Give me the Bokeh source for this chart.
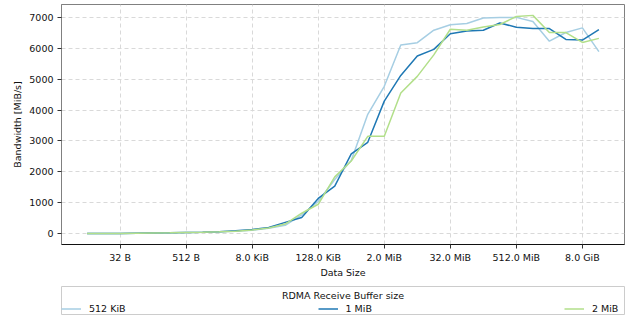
from bokeh.plotting import figure
from bokeh.models import Range1d, FixedTicker, Legend, LegendItem, Label
from bokeh.layouts import column
from bokeh.embed import file_html
from bokeh.resources import INLINE

# Data size in bytes (powers of two from 8 B to 16 GiB)
data_size_bytes = [8, 16, 32, 64, 128, 256, 512, 1024, 2048, 4096,
                   8192, 16384, 32768, 65536, 131072, 262144, 524288, 1048576, 2097152, 4194304,
                   8388608, 16777216, 33554432, 67108864, 134217728, 268435456, 536870912,
                   1073741824, 2147483648, 4294967296, 8589934592, 17179869184]

# Bandwidth [MiB/s] per RDMA receive buffer size
bw_512kib = [5, 6, 8, 12, 18, 25, 35, 45, 60, 75,
             110, 170, 270, 610, 1040, 1750, 2370, 3863, 4770, 6105,
             6180, 6585, 6760, 6800, 6980, 7000, 7000, 6870, 6230, 6510, 6660, 5890]
bw_1mib = [5, 6, 8, 12, 18, 25, 35, 45, 60, 90,
           130, 200, 365, 525, 1140, 1540, 2583, 2957, 4290, 5120,
           5750, 5965, 6470, 6560, 6585, 6820, 6680, 6640, 6640, 6285, 6265, 6605]
bw_2mib = [5, 6, 8, 12, 18, 25, 35, 45, 60, 80,
           120, 180, 310, 660, 950, 1837, 2350, 3150, 3150, 4550,
           5090, 5785, 6615, 6585, 6690, 6770, 7030, 7065, 6510, 6510, 6190, 6320]

series_values = [bw_512kib, bw_1mib, bw_2mib]
series_labels = ["512 KiB", "1 MiB", "2 MiB"]
series_colors = ["#a6cee3", "#1f78b4", "#b2df8a"]
legend_title = "RDMA Receive Buffer size"

x_tick_values = [32, 512, 8192, 131072, 2097152, 33554432, 536870912, 8589934592]
x_tick_labels = ["32 B", "512 B", "8.0 KiB", "128.0 KiB", "2.0 MiB", "32.0 MiB", "512.0 MiB", "8.0 GiB"]
y_tick_values = [0, 1000, 2000, 3000, 4000, 5000, 6000, 7000]

FONT = "DejaVu Sans"
FS = "9.5px"
TXT = "#111111"

# ---- main chart ----
p = figure(width=627, height=286, x_axis_type="log",
           x_range=Range1d(2 ** 1.45, 2 ** 35.55), y_range=Range1d(-352, 7417),
           output_backend="svg", toolbar_location=None,
           min_border_left=61, min_border_right=3, min_border_top=4, min_border_bottom=42)
p.background_fill_color = "white"
p.border_fill_color = "white"
p.outline_line_color = "#808080"
p.outline_line_width = 1

p.xaxis.ticker = FixedTicker(ticks=x_tick_values)
p.xaxis.major_label_overrides = dict(zip(x_tick_values, x_tick_labels))
p.yaxis.ticker = FixedTicker(ticks=y_tick_values)

for ax in (p.xaxis[0], p.yaxis[0]):
    ax.major_label_text_font = FONT
    ax.major_label_text_font_size = FS
    ax.major_label_text_color = TXT
    ax.axis_label_text_font = FONT
    ax.axis_label_text_font_size = FS
    ax.axis_label_text_font_style = "normal"
    ax.axis_label_text_color = TXT
    ax.minor_tick_line_color = None
    ax.major_tick_in = 0
    ax.major_tick_out = 4
    ax.major_tick_line_color = "#333333"
p.xaxis.axis_label = "Data Size"
p.yaxis.axis_label = "Bandwidth [MiB/s]"
p.xaxis.axis_line_color = TXT
p.yaxis.axis_line_color = "#808080"
p.xaxis.major_label_standoff = 3
p.yaxis.major_label_standoff = 4
p.xaxis.axis_label_standoff = 1
p.yaxis.axis_label_standoff = 3

for g in (p.xgrid[0], p.ygrid[0]):
    g.grid_line_color = "#d9d9d9"
    g.grid_line_dash = "4 3"
    g.grid_line_width = 1

for vals, col in zip(series_values, series_colors):
    p.line(data_size_bytes, vals, line_color=col, line_width=1.5)

# ---- legend strip (frame outline acts as legend border) ----
lg = figure(width=627, height=29, x_range=Range1d(0, 1), y_range=Range1d(0, 1),
            output_backend="svg", toolbar_location=None,
            x_axis_location=None, y_axis_location=None,
            min_border_left=61, min_border_right=3, min_border_top=0, min_border_bottom=1)
lg.grid.visible = False
lg.background_fill_color = "white"
lg.border_fill_color = "white"
lg.outline_line_color = "#cccccc"
lg.outline_line_width = 1

# same series drawn here only as legend swatches (their values fall outside this strip's range)
swatches = [lg.line(data_size_bytes, vals, line_color=col, line_width=1.5)
            for vals, col in zip(series_values, series_colors)]
legend = Legend(items=[LegendItem(label=lab, renderers=[r]) for lab, r in zip(series_labels, swatches)],
                orientation="horizontal", ncols=3, nrows=1, location=(0, 0),
                border_line_color=None, background_fill_alpha=0.0,
                padding=2, spacing=192, margin=0, glyph_width=20, glyph_height=11,
                label_standoff=8, label_height=11,
                label_text_font=FONT, label_text_font_size=FS, label_text_color=TXT)
lg.add_layout(legend)
lg.add_layout(Label(x=0.5, y=0.69, text=legend_title, text_align="center", text_baseline="middle",
                    text_font=FONT, text_font_size=FS, text_color=TXT))

layout = column(p, lg, spacing=0)
open("out.html", "w").write(file_html(layout, INLINE))
